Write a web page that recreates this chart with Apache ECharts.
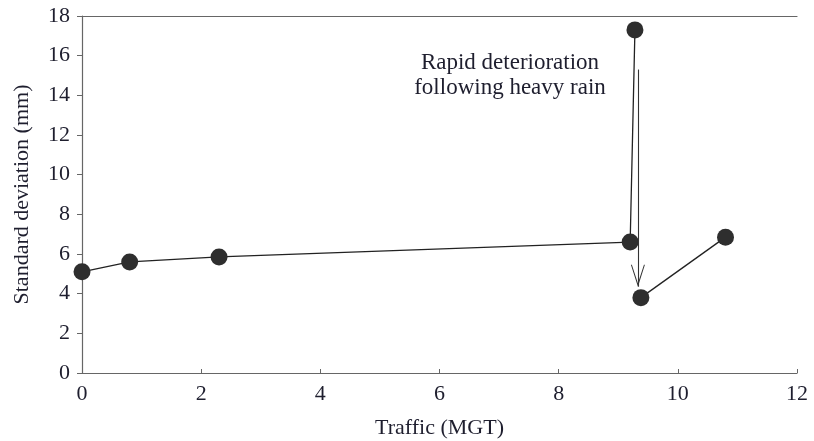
<!DOCTYPE html>
<html>
<head>
<meta charset="utf-8">
<script src="https://cdn.jsdelivr.net/npm/echarts@6/dist/echarts.min.js"></script>
<style>
  html, body { margin: 0; padding: 0; background: #fff; }
  #chart { width: 814px; height: 441px; }
</style>
</head>
<body>
<div id="chart"></div>
<script>
// data
var trafficBefore = [0, 0.8, 2.3, 9.2, 9.28];
var sdBefore = [5.1, 5.6, 5.85, 6.6, 17.3];
var trafficAfter = [9.38, 10.8];
var sdAfter = [3.8, 6.85];
var arrowFrom = [9.33, 15.3];
var arrowTo = [9.33, 4.35];
var xTicks = [0, 2, 4, 6, 8, 10, 12];
var yTicks = [0, 2, 4, 6, 8, 10, 12, 14, 16, 18];

var font = 'Liberation Serif';
var textColor = '#1e1e2e';

function pairs(xs, ys) {
    var out = [];
    for (var i = 0; i < xs.length; i++) out.push([xs[i], ys[i]]);
    return out;
}

// open V head; the dummy point above puts the tip at the symbol centre
var arrowHead = 'path://M5,0 L10,10 L9.3,10 L5,1.6 L0.7,10 L0,10 Z M5,-10 L5.001,-10 L5,-9.999 Z';

var myChart = echarts.init(document.getElementById('chart'));
var option = {
    backgroundColor: '#fff',
    animation: false,
    textStyle: { fontFamily: font, color: textColor },
    grid: { left: 82, right: 17, top: 16, bottom: 68, outerBoundsMode: 'none', containLabel: false },
    xAxis: [{
        type: 'value',
        min: xTicks[0],
        max: xTicks[xTicks.length - 1],
        interval: 2,
        name: 'Traffic (MGT)',
        nameLocation: 'middle',
        nameGap: 44,
        nameTextStyle: { fontFamily: font, fontSize: 22, color: textColor },
        axisLine: { lineStyle: { color: '#666', width: 1.2 } },
        axisTick: { inside: true, length: 4, lineStyle: { color: '#666' } },
        axisLabel: { fontFamily: font, fontSize: 22, color: textColor, margin: 10 },
        splitLine: { show: false }
    }, {
        // top frame line
        type: 'value',
        position: 'top',
        min: xTicks[0],
        max: xTicks[xTicks.length - 1],
        axisLine: { show: true, onZero: false, lineStyle: { color: '#666', width: 1.2 } },
        axisTick: { show: false },
        axisLabel: { show: false },
        splitLine: { show: false }
    }],
    yAxis: {
        type: 'value',
        min: yTicks[0],
        max: yTicks[yTicks.length - 1],
        interval: 2,
        name: 'Standard deviation (mm)',
        nameLocation: 'middle',
        nameGap: 49,
        nameTextStyle: { fontFamily: font, fontSize: 22, color: textColor },
        axisLine: { show: true, lineStyle: { color: '#666', width: 1.2 } },
        axisTick: { show: true, length: 5, lineStyle: { color: '#666' } },
        axisLabel: { fontFamily: font, fontSize: 22, color: textColor, margin: 12 },
        splitLine: { show: false }
    },
    series: [{
        type: 'line',
        data: pairs(trafficBefore, sdBefore),
        symbol: 'circle',
        symbolSize: 17,
        itemStyle: { color: '#2e2e2e' },
        lineStyle: { color: '#222', width: 1.3 },
        markLine: {
            silent: true,
            symbol: ['none', arrowHead],
            symbolSize: [14, 44],
            label: { show: false },
            lineStyle: { color: '#333', width: 1.1, type: 'solid' },
            data: [[{ coord: arrowFrom }, { coord: arrowTo }]]
        }
    }, {
        type: 'line',
        data: pairs(trafficAfter, sdAfter),
        symbol: 'circle',
        symbolSize: 17,
        itemStyle: { color: '#2e2e2e' },
        lineStyle: { color: '#222', width: 1.3 }
    }],
    graphic: [{
        type: 'text',
        x: 510,
        y: 50,
        style: {
            text: 'Rapid deterioration\nfollowing heavy rain',
            fontFamily: font,
            fontSize: 23,
            lineHeight: 25,
            fill: textColor,
            align: 'center',
            verticalAlign: 'top'
        }
    }]
};
myChart.setOption(option);
</script>
</body>
</html>
